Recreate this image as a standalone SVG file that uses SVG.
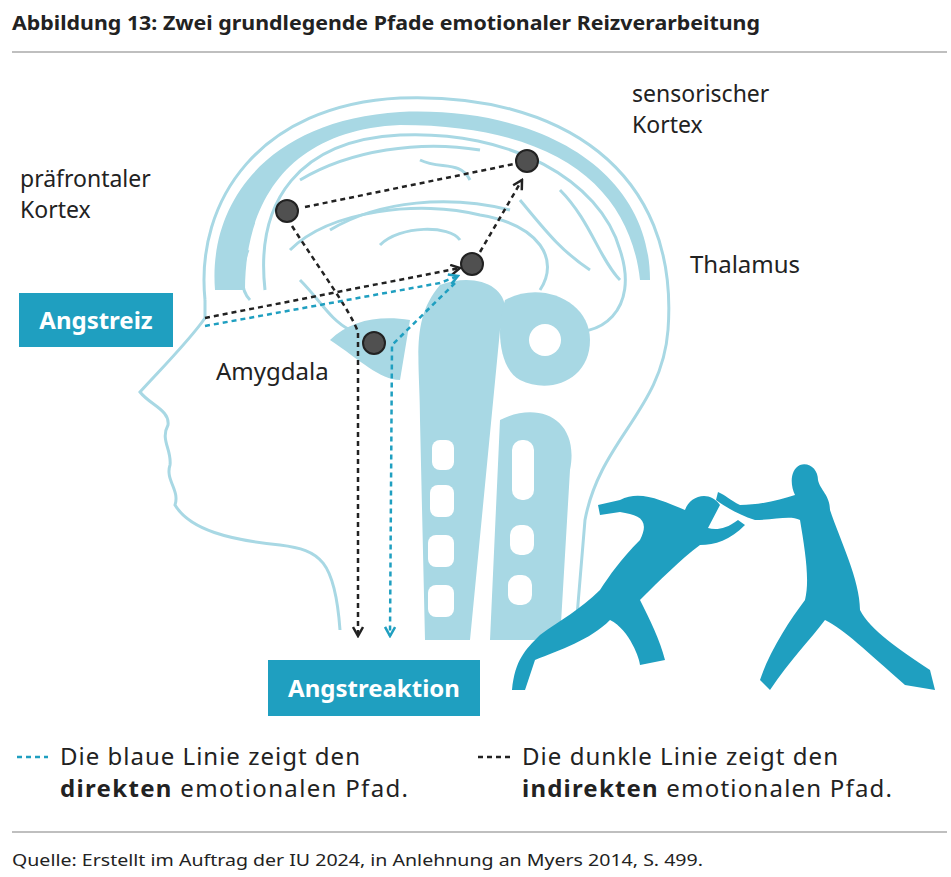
<svg xmlns="http://www.w3.org/2000/svg" width="951" height="877" viewBox="0 0 951 877">
<defs>
<style>
.t{font-family:"Noto Sans","Liberation Sans",sans-serif;fill:#222}
.lb{fill:none;stroke:#a8d8e4;stroke-width:3}
.fill{fill:#a8d8e4}
.fig{fill:#1f9fc0}
.dk{fill:none;stroke:#222;stroke-width:2.5;stroke-dasharray:5 4}
.bl{fill:none;stroke:#1f9fc0;stroke-width:2.5;stroke-dasharray:5 4}
.node{fill:#505050;stroke:#222;stroke-width:2}
</style>
<marker id="ad" viewBox="0 0 12 12" refX="10" refY="6" markerWidth="12" markerHeight="12" markerUnits="userSpaceOnUse" orient="auto"><path d="M1,1 L10,6 L1,11" fill="none" stroke="#222" stroke-width="2.5"/></marker>
<marker id="ab" viewBox="0 0 12 12" refX="10" refY="6" markerWidth="12" markerHeight="12" markerUnits="userSpaceOnUse" orient="auto"><path d="M1,1 L10,6 L1,11" fill="none" stroke="#1f9fc0" stroke-width="2.5"/></marker>
</defs>
<rect width="951" height="877" fill="#fff"/>
<text class="t" x="12" y="30" font-size="19" font-weight="bold" textLength="748" lengthAdjust="spacingAndGlyphs">Abbildung 13: Zwei grundlegende Pfade emotionaler Reizverarbeitung</text>
<line x1="12" y1="52" x2="947" y2="52" stroke="#aaa" stroke-width="1.5"/>

<g id="head">
<path class="lb" d="M205,300 C195,200 260,105 400,98 C560,92 680,170 668,330 C662,410 600,440 585,520 L575,640"/>
<path class="fill" d="M215,290 C208,200 270,120 400,112 C540,106 650,170 650,280 L640,280 C630,190 560,125 400,125 C290,130 245,200 245,290 Z"/>
<path class="lb" d="M205,300 L205,318 C190,340 160,370 140,392 C150,405 170,410 168,425 C160,440 172,450 170,465 C165,480 180,490 175,505 C190,530 230,540 280,545 C320,550 335,560 340,630"/>
<path class="lb" d="M265,290 C255,200 300,140 400,135 C510,130 600,180 620,250 C640,310 600,340 560,330"/>
<path class="lb" d="M290,250 C330,210 420,200 480,215 C540,225 560,260 540,290"/>
<path class="lb" d="M300,180 C350,150 420,140 480,150 M330,230 C380,200 450,195 510,210 M380,245 C400,225 450,225 460,240 M560,190 C590,220 600,260 620,280 M420,160 C440,170 460,160 470,180 M520,200 C545,230 560,250 590,270"/>
<path class="lb" d="M248,250 C240,270 240,290 250,300 M300,280 C320,300 330,320 350,330"/>
<path class="fill" d="M440,285 C480,270 520,290 500,330 L470,640 L425,640 L420,420 C420,360 410,320 440,285 Z"/>
<path class="fill" d="M505,300 C540,280 590,300 590,340 C590,380 550,395 520,380 C500,370 495,330 505,300 Z"/>
<path class="fill" d="M500,420 C540,400 580,420 570,470 L560,640 L490,640 Z"/>
<path d="M330,340 C360,360 380,380 400,380 L410,320 C380,315 350,320 330,340Z" class="fill"/>
<g fill="#fff">
<rect x="432" y="440" width="22" height="30" rx="8"/>
<rect x="430" y="485" width="24" height="32" rx="8"/>
<rect x="428" y="535" width="26" height="32" rx="8"/>
<rect x="428" y="585" width="26" height="32" rx="8"/>
<rect x="512" y="440" width="22" height="60" rx="10"/>
<rect x="510" y="525" width="24" height="30" rx="10"/>
<rect x="508" y="575" width="24" height="30" rx="10"/>
<circle cx="545" cy="340" r="16"/>
</g>
</g>

<g id="runner">
<path class="fig" d="M720,505 C710,490 690,495 685,510 C660,500 640,490 620,500 L598,505 L600,515 L620,512 C640,515 650,520 640,540 C620,560 610,575 600,590 C580,610 560,620 540,635 C525,650 515,660 512,690 L525,690 L535,660 C560,650 590,640 610,620 C630,630 640,660 640,665 L665,660 C660,640 650,620 640,600 C660,580 680,560 700,545 C715,545 730,540 745,525 L738,520 C725,530 715,530 708,528 Z"/>
</g>
<g id="pusher">
<path class="fig" d="M800,465 C790,470 790,485 795,495 C780,500 760,505 740,505 C730,500 725,495 718,492 L716,500 C730,510 740,515 755,520 C775,520 790,515 800,520 C805,550 810,580 805,600 C790,620 770,650 760,680 L770,690 C790,660 810,640 825,620 C845,630 865,650 905,685 L935,690 L930,670 C900,650 870,630 860,610 C860,580 840,540 830,510 C830,495 820,490 818,480 C818,470 810,462 800,465 Z"/>
</g>

<g id="connectors">
<path class="dk" d="M305,207 L514,164"/>
<path class="dk" d="M292,226 C320,270 350,310 358,332 L358,636" marker-end="url(#ad)"/>
<path class="dk" d="M205,318 L460,268" marker-end="url(#ad)"/>
<path class="dk" d="M480,252 L522,180" marker-end="url(#ad)"/>
<path class="bl" d="M205,326 L440,283 L458,276" marker-end="url(#ab)"/>
<path class="bl" d="M455,283 L392,345 L390,636" marker-end="url(#ab)"/>
</g>

<g id="nodes">
<circle id="n-pfc" class="node" cx="287" cy="211" r="11"/>
<circle id="n-sk" class="node" cx="527" cy="161" r="11"/>
<circle id="n-th" class="node" cx="472" cy="264" r="11"/>
<circle id="n-am" class="node" cx="374" cy="343" r="11"/>
</g>

<g id="labels">
<text class="t" font-size="23" x="20" y="187">präfrontaler</text>
<text class="t" font-size="23" x="20" y="218">Kortex</text>
<text class="t" font-size="23" x="632" y="102">sensorischer</text>
<text class="t" font-size="23" x="632" y="133">Kortex</text>
<text class="t" font-size="24" x="690" y="273">Thalamus</text>
<text class="t" font-size="24" x="216" y="380">Amygdala</text>
</g>
<g id="angstreiz">
<rect x="19" y="293" width="154" height="54" fill="#1f9fc0"/>
<text class="t" font-size="24" font-weight="bold" x="96" y="329" text-anchor="middle" style="fill:#fff">Angstreiz</text>
</g>
<g id="angstreaktion">
<rect x="268" y="660" width="212" height="56" fill="#1f9fc0"/>
<text class="t" font-size="24" font-weight="bold" x="374" y="697" text-anchor="middle" style="fill:#fff">Angstreaktion</text>
</g>

<g id="legend">
<line class="bl" x1="17" y1="757" x2="48" y2="757" stroke-width="2" stroke-dasharray="3 3"/>
<text class="t" font-size="24" x="60" y="765" textLength="300">Die blaue Linie zeigt den</text>
<text class="t" font-size="24" x="60" y="797" textLength="348"><tspan font-weight="bold">direkten</tspan> emotionalen Pfad.</text>
<line class="dk" x1="478" y1="757" x2="510" y2="757" stroke-width="2" stroke-dasharray="3 3"/>
<text class="t" font-size="24" x="522" y="765" textLength="316">Die dunkle Linie zeigt den</text>
<text class="t" font-size="24" x="522" y="797" textLength="370"><tspan font-weight="bold">indirekten</tspan> emotionalen Pfad.</text>
</g>
<line x1="12" y1="832" x2="947" y2="832" stroke="#aaa" stroke-width="1.5"/>
<text class="t" font-size="17" x="12" y="866" textLength="691" lengthAdjust="spacingAndGlyphs">Quelle: Erstellt im Auftrag der IU 2024, in Anlehnung an Myers 2014, S. 499.</text>
</svg>
